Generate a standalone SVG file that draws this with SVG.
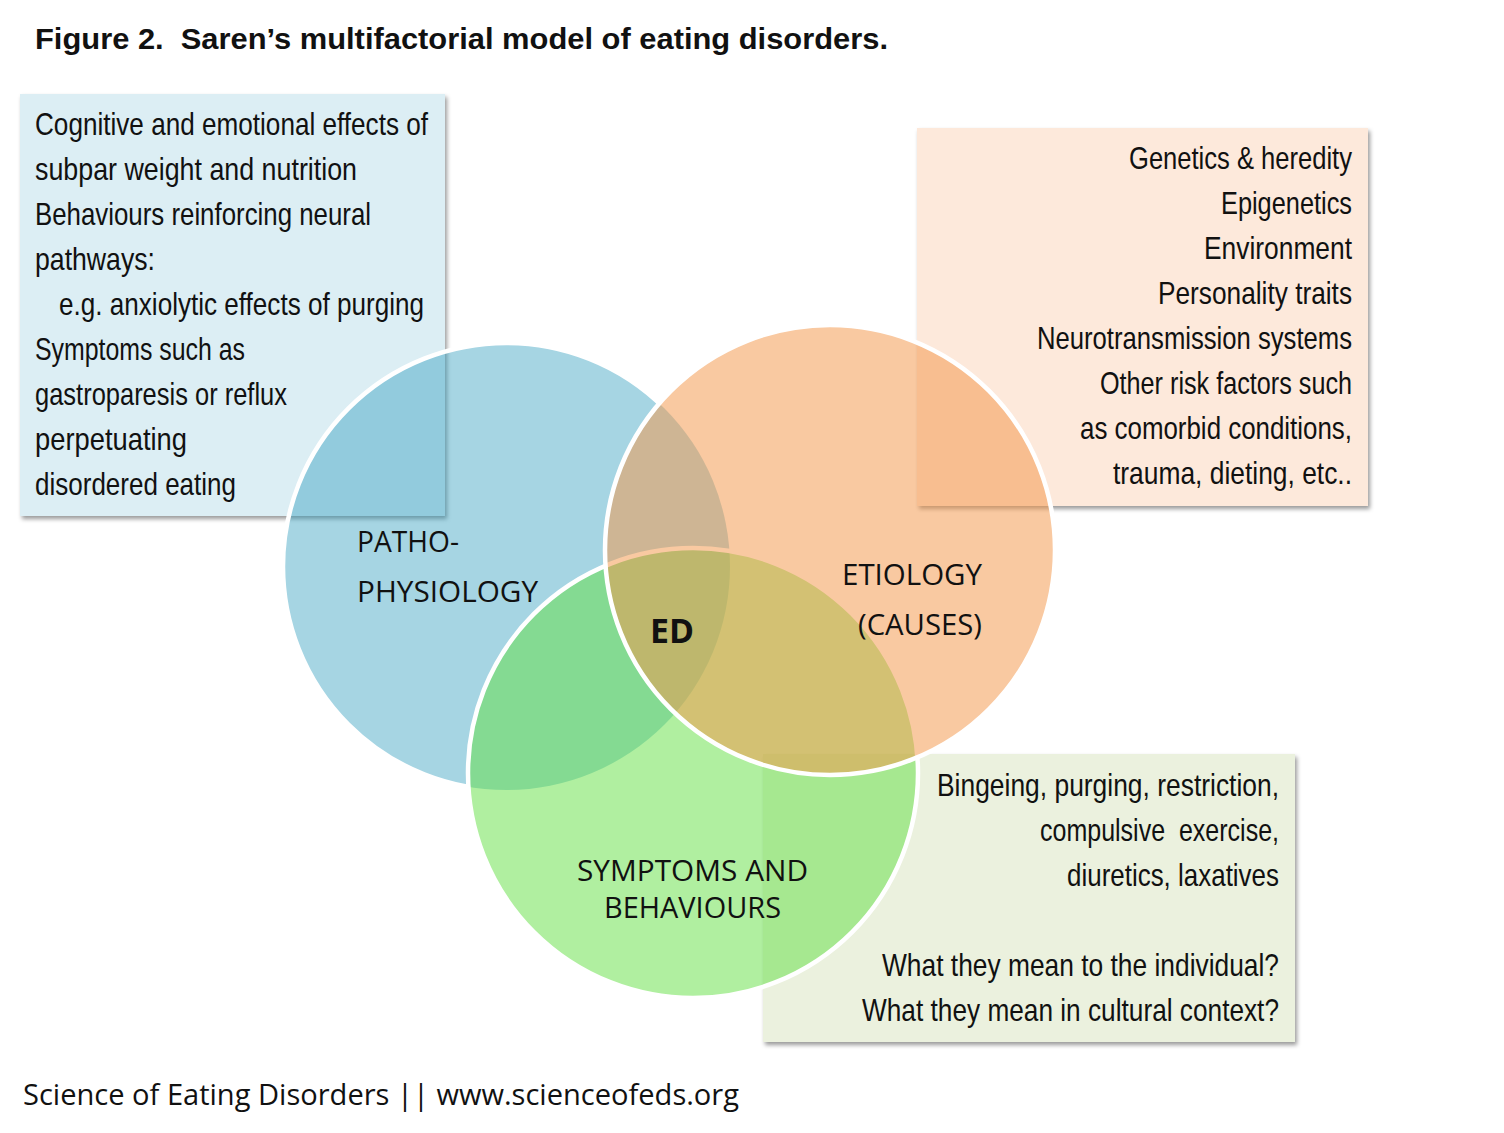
<svg xmlns="http://www.w3.org/2000/svg" width="1504" height="1133" viewBox="0 0 1504 1133">
<style>
.box{stroke:none;filter:url(#sh)}
.bt{font-family:"Liberation Sans",Arial,sans-serif;font-size:32px;fill:#111}
.lbl{font-family:"Open Sans","Liberation Sans",sans-serif;font-size:29px;fill:#111}
.pre{white-space:pre}
</style>
<defs>
<filter id="sh" x="-5%" y="-5%" width="115%" height="115%">
<feDropShadow dx="2" dy="3" stdDeviation="2" flood-color="#000" flood-opacity="0.4"/>
</filter>
<mask id="bm" maskUnits="userSpaceOnUse" x="0" y="0" width="1504" height="1133">
<rect x="0" y="0" width="1504" height="1133" fill="#fff"/>
<circle cx="693" cy="773" r="225" fill="#000"/>
<circle cx="830" cy="550" r="225" fill="#000"/>
</mask>
</defs>
<rect width="1504" height="1133" fill="#fff"/>
<text x="35" y="49" class="pre" font-family="'Liberation Sans',Arial,sans-serif" font-weight="bold" font-size="29" fill="#111" textLength="853" lengthAdjust="spacingAndGlyphs">Figure 2.  Saren’s multifactorial model of eating disorders.</text>

<g id="box-patho">
<rect class="box" x="20" y="94" width="425" height="422" fill="#DCEEF4"/>
</g>
<g id="box-etiology">
<rect class="box" x="917" y="128" width="451" height="378" fill="#FDE9DB"/>
</g>
<g id="box-symptoms">
<rect class="box" x="763" y="754" width="532" height="288" fill="#EBF1DE"/>
</g>

<g id="circle-patho">
<circle cx="506.5" cy="566.5" r="223.5" fill="rgb(48,157,190)" fill-opacity="0.43"/>
<circle cx="506.5" cy="566.5" r="223.5" fill="none" stroke="#fff" stroke-width="4.5" mask="url(#bm)"/>
</g>
<g id="circle-symptoms">
<circle cx="693" cy="773" r="225" fill="rgb(97,223,65)" fill-opacity="0.5" stroke="#fff" stroke-width="4.5"/>
</g>
<g id="circle-etiology">
<circle cx="830" cy="550" r="225" fill="rgb(243,151,74)" fill-opacity="0.52" stroke="#fff" stroke-width="4.5"/>
</g>

<g id="connectors"></g>

<g id="text-patho">
<text class="bt" x="35" y="135" textLength="393" lengthAdjust="spacingAndGlyphs">Cognitive and emotional effects of</text>
<text class="bt" x="35" y="180" textLength="322" lengthAdjust="spacingAndGlyphs">subpar weight and nutrition</text>
<text class="bt" x="35" y="225" textLength="336" lengthAdjust="spacingAndGlyphs">Behaviours reinforcing neural</text>
<text class="bt" x="35" y="270" textLength="120" lengthAdjust="spacingAndGlyphs">pathways:</text>
<text class="bt" x="59" y="315" textLength="365" lengthAdjust="spacingAndGlyphs">e.g. anxiolytic effects of purging</text>
<text class="bt" x="35" y="360" textLength="210" lengthAdjust="spacingAndGlyphs">Symptoms such as</text>
<text class="bt" x="35" y="405" textLength="252" lengthAdjust="spacingAndGlyphs">gastroparesis or reflux</text>
<text class="bt" x="35" y="450" textLength="152" lengthAdjust="spacingAndGlyphs">perpetuating</text>
<text class="bt" x="35" y="495" textLength="201" lengthAdjust="spacingAndGlyphs">disordered eating</text>
</g>

<g id="text-etiology">
<text class="bt" x="1129" y="169" textLength="223" lengthAdjust="spacingAndGlyphs">Genetics &amp; heredity</text>
<text class="bt" x="1221" y="214" textLength="131" lengthAdjust="spacingAndGlyphs">Epigenetics</text>
<text class="bt" x="1204" y="259" textLength="148" lengthAdjust="spacingAndGlyphs">Environment</text>
<text class="bt" x="1158" y="304" textLength="194" lengthAdjust="spacingAndGlyphs">Personality traits</text>
<text class="bt" x="1037" y="349" textLength="315" lengthAdjust="spacingAndGlyphs">Neurotransmission systems</text>
<text class="bt" x="1100" y="394" textLength="252" lengthAdjust="spacingAndGlyphs">Other risk factors such</text>
<text class="bt" x="1080" y="439" textLength="272" lengthAdjust="spacingAndGlyphs">as comorbid conditions,</text>
<text class="bt" x="1113" y="484" textLength="239" lengthAdjust="spacingAndGlyphs">trauma, dieting, etc..</text>
</g>

<g id="text-symptoms">
<text class="bt" x="937" y="796" textLength="342" lengthAdjust="spacingAndGlyphs">Bingeing, purging, restriction,</text>
<text class="bt pre" x="1040" y="841" textLength="239" lengthAdjust="spacingAndGlyphs">compulsive  exercise,</text>
<text class="bt" x="1067" y="886" textLength="212" lengthAdjust="spacingAndGlyphs">diuretics, laxatives</text>
<text class="bt" x="882" y="976" textLength="397" lengthAdjust="spacingAndGlyphs">What they mean to the individual?</text>
<text class="bt" x="862" y="1021" textLength="417" lengthAdjust="spacingAndGlyphs">What they mean in cultural context?</text>
</g>

<g id="labels">
<text class="lbl" x="357" y="552" textLength="102" lengthAdjust="spacingAndGlyphs">PATHO-</text>
<text class="lbl" x="357" y="602" textLength="181" lengthAdjust="spacingAndGlyphs">PHYSIOLOGY</text>
<text class="lbl" x="842" y="585" textLength="140" lengthAdjust="spacingAndGlyphs">ETIOLOGY</text>
<text class="lbl" x="858" y="635" textLength="124" lengthAdjust="spacingAndGlyphs">(CAUSES)</text>
<text class="lbl" x="577" y="881" font-size="27" textLength="231" lengthAdjust="spacingAndGlyphs">SYMPTOMS AND</text>
<text class="lbl" x="604" y="918" font-size="27" textLength="177" lengthAdjust="spacingAndGlyphs">BEHAVIOURS</text>
<text x="650" y="643" font-family="'Open Sans','Liberation Sans',sans-serif" font-weight="bold" font-size="34" fill="#111" textLength="44" lengthAdjust="spacingAndGlyphs">ED</text>
</g>

<text x="23" y="1105" font-family="'Open Sans','Liberation Sans',sans-serif" font-size="30" fill="#111" textLength="716" lengthAdjust="spacingAndGlyphs">Science of Eating Disorders || www.scienceofeds.org</text>
</svg>
